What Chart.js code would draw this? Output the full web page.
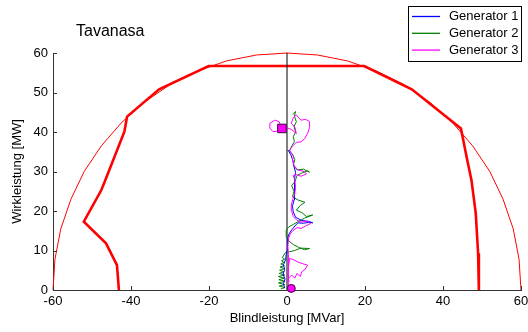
<!DOCTYPE html>
<html>
<head>
<meta charset="utf-8">
<title>Tavanasa PQ</title>
<script src="https://cdn.jsdelivr.net/npm/chart.js@4/dist/chart.umd.min.js"></script>
<style>
  html, body { margin: 0; padding: 0; background: #fff; }
</style>
</head>
<body>
<canvas id="pqChart" width="528" height="332"></canvas>
<script>
// Axis ticks
const qTicks = [-60, -40, -20, 0, 20, 40, 60];
const pTicks = [0, 10, 20, 30, 40, 50, 60];

// Apparent power limit (S = 60 MVA)
const arcQ = [60, 59.5, 58, 55.4, 52, 47.6, 42.4, 36.5, 30, 23, 15.5, 7.8, 0,
              -7.8, -15.5, -23, -30, -36.5, -42.4, -47.6, -52, -55.4, -58, -59.5, -60];
const arcP = [0, 7.8, 15.5, 23, 30, 36.5, 42.4, 47.6, 52, 55.4, 58, 59.5, 60,
              59.5, 58, 55.4, 52, 47.6, 42.4, 36.5, 30, 23, 15.5, 7.8, 0];

// Operating limit curve of the machine
const limQ = [-43.1, -43.6, -46.4, -52.1, -47.6, -46.6, -41.7, -41.0, -32.8, -20.1,
              19.8, 32.0, 44.6, 46.2, 47.3, 48.4, 49.0, 49.2];
const limP = [0, 6.3, 11.8, 17.3, 25.3, 27.8, 40.1, 43.9, 50.8, 56.7,
              56.7, 50.8, 40.9, 33.0, 27.8, 19.4, 9.3, 0];

// Generator 1 trajectory
const g1Q = [-0.6, -0.9, -0.5, -1.0, -0.6, -0.9, -0.4, -0.3, 0, 0.2, 0.1, 0.4, 1.2, 2.0, 2.8, 4.2, 5.4, 6.6,
             5.5, 3.8, 2.2, 1.6, 1.4, 1.8, 2.0, 1.8, 2.0, 2.2, 1.8, 1.5, 1.0, 0.3, 0.2];
const g1P = [0.5, 1.6, 2.8, 4.0, 5.2, 6.4, 7.6, 8.5, 10.0, 11.6, 12.8, 14.0, 15.2, 16.2, 17.0, 16.9, 17.1, 17.0,
             17.4, 17.6, 18.4, 19.8, 21.2, 22.8, 24.4, 26.4, 28.2, 29.8, 31.2, 32.8, 34.2, 35.4, 35.2];

// Generator 2 trajectory
const g2Q = [-1.6, -0.5, -2.0, -0.6, -2.2, -0.5, -2.1, -0.7, -2.2, -0.6, -2.0, -0.8, -1.9, -0.6, -1.8,
             -0.7, -1.6, -0.8, -1.4, -0.6, -1.2, -0.4, 0.7, 2.0, 3.5, 5.8,
             4.5, 3.0, 1.6, 0.5, -0.2, -0.2, 0.5, 1.6, 3.0, 4.5, 6.6, 5.0, 3.8, 2.4, 3.4, 4.6,
             2.8, 1.4, 1.8, 1.2, 2.0, 2.6, 3.8, 5.3, 5.8, 4.2, 2.6, 1.6, 2.0, 1.4, 0.6, 1.2,
             1.9, 1.6, 2.2, 1.8, 2.4, 1.9, 2.2, 1.5];
const g2P = [0.3, 0.6, 1.0, 1.4, 1.8, 2.2, 2.6, 3.0, 3.4, 3.8, 4.2, 4.6, 5.0, 5.4, 5.8,
             6.2, 6.6, 7.0, 7.4, 7.8, 8.2, 9.5, 9.7, 10.0, 10.6, 10.5,
             10.2, 10.8, 11.5, 12.4, 13.5, 15.2, 16.0, 16.6, 17.4, 18.2, 19.0, 18.6, 19.6, 20.2, 21.4, 22.2,
             22.8, 23.6, 25.0, 26.4, 27.4, 29.0, 29.6, 30.2, 29.8, 30.6, 30.4, 31.6, 33.0, 34.4, 35.2, 36.4,
             37.6, 38.8, 40.0, 41.4, 42.6, 44.0, 45.2, 44.4];

// Generator 3 trajectory
const g3Q = [1.1, 0.4, 0.2, 0.6, 1.2, 2.0, 2.6, 3.4, 3.8, 4.6, 5.3, 4.2, 3.0, 1.8, 0.7, 0.4, 0.2, 0.5,
             0.3, 0.5, 0.3, 0.2,
             0.4, 0.8, 1.5, 2.6, 3.6, 4.8, 6.0, 5.2, 3.8, 2.6, 1.6, 1.2, 1.1, 1.5, 2.0, 2.2,
             2.0, 1.6, 2.4, 3.6, 5.0, 4.4, 2.8, 1.8, 1.4, 1.7, 1.0, 0.7, 1.4, 2.4, 3.6, 4.6,
             5.3, 5.8, 5.8, 4.8, 3.6, 2.4, 1.6, 1.1, 2.0, 2.4, 1.2, 0.2, -1.3, -2.4, -3.6, -4.4,
             -4.4, -3.1, -2.0, -1.3];
const g3P = [0.4, 1.2, 2.5, 3.2, 3.8, 3.0, 4.2, 3.4, 4.6, 5.2, 6.3, 6.6, 7.0, 7.6, 8.0, 6.0, 4.0, 2.0,
             4.5, 7.0, 9.0, 11.0,
             13.0, 14.2, 15.0, 15.8, 15.6, 16.2, 16.8, 17.4, 17.2, 17.6, 18.6, 20.0, 21.5, 23.0, 24.5, 26.0,
             27.8, 29.0, 29.2, 28.8, 29.4, 30.0, 30.4, 31.5, 33.0, 33.8, 34.8, 35.4, 36.4, 37.4, 37.5, 38.4,
             39.7, 41.2, 42.6, 43.2, 43.0, 44.3, 43.6, 42.2, 41.3, 39.6, 40.6, 41.0, 40.9, 40.2, 40.1, 41.0,
             42.2, 43.0, 42.6, 40.9];

const genNames = ['Generator 1', 'Generator 2', 'Generator 3'];
const genColors = ['#0000ff', '#008000', '#ff00ff'];

const FONT = '"Liberation Sans", Arial, Helvetica, sans-serif';
Chart.defaults.font.family = FONT;
Chart.defaults.font.size = 13;
Chart.defaults.color = '#000';

function toPoints(qs, ps) {
    return qs.map((q, i) => ({ x: q, y: ps[i] }));
}

function lineSet(label, qs, ps, color, width, order) {
    return {
        label: label,
        data: toPoints(qs, ps),
        showLine: true,
        borderColor: color,
        borderWidth: width,
        pointRadius: 0,
        tension: 0,
        clip: false,
        order: order
    };
}

// Title, inward tick marks and the boxed legend
const decorations = {
    id: 'decorations',
    afterDraw(chart) {
        const { ctx, chartArea: a, scales: { x, y } } = chart;
        ctx.save();

        ctx.strokeStyle = '#333';
        ctx.lineWidth = 1;
        ctx.beginPath();
        qTicks.forEach(v => {
            const px = Math.round(x.getPixelForValue(v)) + 0.5;
            ctx.moveTo(px, a.bottom);
            ctx.lineTo(px, a.bottom - 4);
        });
        pTicks.forEach(v => {
            const py = Math.round(y.getPixelForValue(v)) + 0.5;
            ctx.moveTo(a.left, py);
            ctx.lineTo(a.left + 4, py);
        });
        ctx.stroke();

        ctx.fillStyle = '#000';
        ctx.font = '16px ' + FONT;
        ctx.textBaseline = 'alphabetic';
        ctx.textAlign = 'left';
        ctx.fillText('Tavanasa', 76, 35.5);

        // legend
        ctx.fillStyle = '#fff';
        ctx.fillRect(408.5, 6.5, 113, 55);
        ctx.strokeStyle = '#000';
        ctx.strokeRect(408.5, 6.5, 113, 55);
        ctx.font = '13px ' + FONT;
        ctx.textBaseline = 'middle';
        genNames.forEach((name, i) => {
            const ly = 16.5 + i * 16.8;
            ctx.strokeStyle = genColors[i];
            ctx.lineWidth = 1.3;
            ctx.beginPath();
            ctx.moveTo(412, ly);
            ctx.lineTo(440, ly);
            ctx.stroke();
            ctx.fillStyle = '#000';
            ctx.fillText(name, 449, ly);
        });
        ctx.restore();
    }
};

new Chart(document.getElementById('pqChart'), {
    type: 'scatter',
    data: {
        datasets: [
            lineSet(genNames[0], g1Q, g1P, genColors[0], 1, 3),
            lineSet(genNames[1], g2Q, g2P, genColors[1], 1, 4),
            lineSet(genNames[2], g3Q, g3P, genColors[2], 1, 2),
            lineSet('S-Grenze', arcQ, arcP, '#ff0000', 1, 7),
            lineSet('Betriebsgrenze', limQ, limP, '#ff0000', 2.6, 6),
            lineSet('Q = 0', [0, 0], [0, 60], '#000', 1, 5),
            {
                label: 'Start',
                data: [{ x: g3Q[0], y: g3P[0] }],
                pointStyle: 'circle',
                pointRadius: 4,
                backgroundColor: '#ff00ff',
                borderColor: '#400040',
                borderWidth: 1,
                clip: false,
                order: 0
            },
            {
                label: 'Ende',
                data: [{ x: g3Q[g3Q.length - 1], y: g3P[g3P.length - 1] }],
                pointStyle: 'rect',
                pointRadius: 6,
                backgroundColor: '#ff00ff',
                borderColor: '#400040',
                borderWidth: 1,
                clip: false,
                order: 0
            }
        ]
    },
    options: {
        responsive: false,
        animation: false,
        events: [],
        layout: { padding: { top: 53, right: 3, left: 0, bottom: 0 } },
        plugins: {
            legend: { display: false },
            tooltip: { enabled: false }
        },
        scales: {
            x: {
                type: 'linear',
                min: -60,
                max: 60,
                grid: { display: false, drawTicks: false },
                border: { display: true, color: '#333', width: 1 },
                ticks: { padding: 4, maxRotation: 0, autoSkip: false },
                afterBuildTicks: s => { s.ticks = qTicks.map(v => ({ value: v })); },
                afterFit: s => { s.height = 42; s.paddingLeft = 0; s.paddingRight = 0; },
                title: { display: true, text: 'Blindleistung [MVar]', padding: { top: 0, bottom: 6 } }
            },
            y: {
                type: 'linear',
                min: 0,
                max: 60,
                grid: { display: false, drawTicks: false },
                border: { display: true, color: '#333', width: 1 },
                ticks: { padding: 5, autoSkip: false },
                afterBuildTicks: s => { s.ticks = pTicks.map(v => ({ value: v })); },
                afterFit: s => { s.width = 53; s.paddingTop = 0; s.paddingBottom = 0; },
                title: { display: true, text: 'Wirkleistung [MW]', padding: { top: 10, bottom: 0 } }
            }
        }
    },
    plugins: [decorations]
});
</script>
</body>
</html>
